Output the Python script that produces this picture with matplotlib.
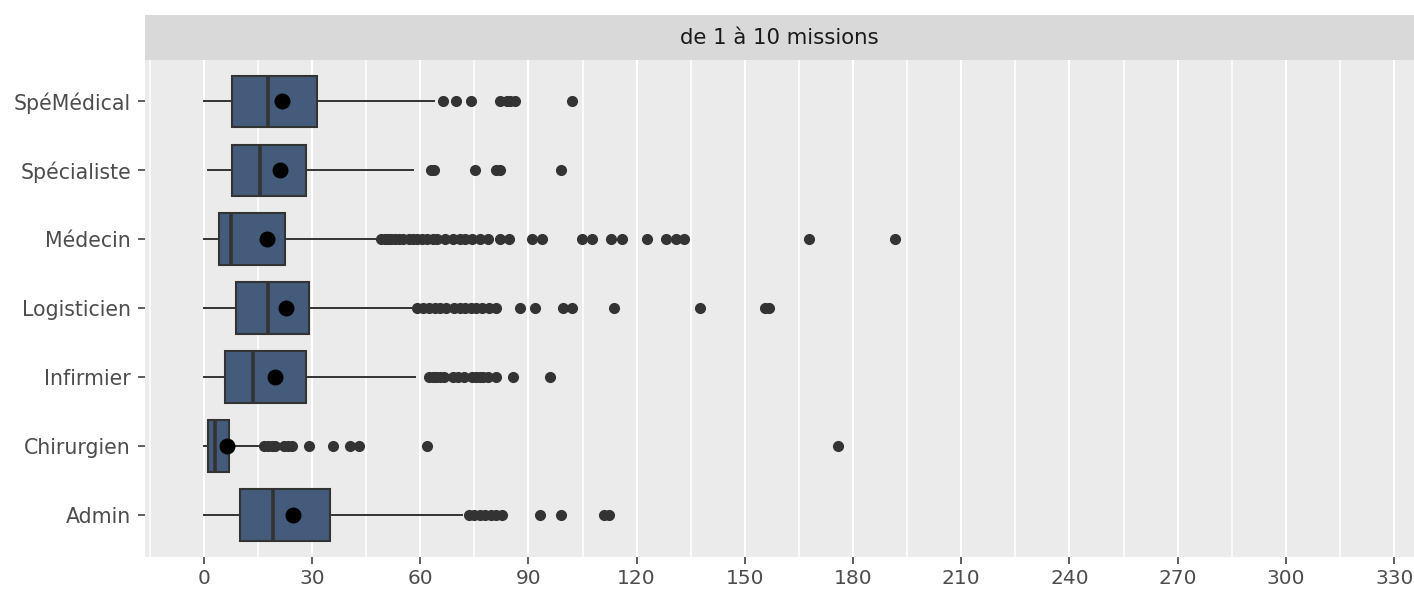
import matplotlib
matplotlib.use("Agg")
import matplotlib.pyplot as plt
import numpy as np

# ---- data (bottom to top) ----
categories = ["Admin", "Chirurgien", "Infirmier", "Logisticien", "Médecin", "Spécialiste", "SpéMédical"]
whislo = [0.0, 0.0, 0.0, 0.0, 0.0, 1.1, 0.0]
q1 = [10.1, 1.1, 5.9, 9.0, 4.2, 7.8, 7.8]
med = [19.3, 3.0, 13.6, 17.8, 7.6, 15.6, 17.8]
q3 = [35.1, 7.1, 28.3, 29.3, 22.5, 28.3, 31.4]
whishi = [71.7, 16.1, 58.6, 58.6, 48.0, 57.9, 63.7]
means = [24.8, 6.4, 19.7, 22.8, 17.5, 21.2, 21.8]

out_admin = [73.6, 75.0, 76.5, 78.0, 79.5, 81.0, 82.8, 93.2, 99.1, 111.0, 112.4]
out_chirurgien = [16.8, 17.8, 18.8, 19.8, 22.3, 23.3, 24.5, 29.2, 35.9, 40.6, 43.1, 62.0, 175.8]
out_infirmier = [62.5, 63.5, 64.5, 65.5, 66.7, 69.0, 70.5, 72.2, 74.5, 75.5, 76.5, 77.5,
                 78.7, 81.0, 85.8, 95.9]
out_logisticien = [59.2, 60.8, 62.5, 64.0, 65.5, 67.2, 69.3, 71.0, 72.5, 74.0, 75.5, 77.0,
                   79.0, 81.0, 87.7, 91.9, 99.7, 102.2, 113.8, 137.7, 155.6, 156.8]
out_medecin = [49.2, 50.3, 51.2, 52.0, 53.0, 54.1, 55.2, 57.0, 58.0, 59.2, 60.5, 62.0, 63.5,
               64.8, 67.0, 69.0, 71.0, 72.5, 74.5, 76.5, 78.9, 82.1, 84.5, 90.9, 93.7, 104.8,
               107.7, 112.8, 116.0, 122.9, 128.1, 130.9, 133.1, 167.8, 191.7]
out_specialiste = [63.0, 63.9, 75.2, 81.0, 82.2, 99.1]
out_spemedical = [66.4, 69.9, 74.1, 82.0, 84.0, 84.9, 86.3, 102.2]
outliers = [out_admin, out_chirurgien, out_infirmier, out_logisticien, out_medecin,
            out_specialiste, out_spemedical]

strip_label = "de 1 à 10 missions"
x_ticks = list(range(0, 331, 30))

# ---- styling ----
W, H = 1414, 595
fig = plt.figure(figsize=(W / 100, H / 100), dpi=100)
fig.patch.set_facecolor("white")

ax_l, ax_r = 145.3 / W, 1.0
ax_b, ax_t = 1 - 556.7 / H, 1 - 60 / H
strip_t = 1 - 15 / H
ax = fig.add_axes([ax_l, ax_b, ax_r - ax_l, ax_t - ax_b])
sax = fig.add_axes([ax_l, ax_t, ax_r - ax_l, strip_t - ax_t])

ax.set_facecolor("#EBEBEB")
for s in ax.spines.values():
    s.set_visible(False)

stats = []
for i in range(len(categories)):
    stats.append(dict(label=categories[i], whislo=whislo[i], q1=q1[i], med=med[i],
                      q3=q3[i], whishi=whishi[i], mean=means[i], fliers=outliers[i]))

positions = np.arange(len(categories))
edge = "#333333"
bp = ax.bxp(stats, positions=positions, widths=0.75, orientation="horizontal",
            patch_artist=True, showmeans=True, showcaps=False, manage_ticks=False,
            boxprops=dict(facecolor="#445B7C", edgecolor=edge, linewidth=1.5),
            whiskerprops=dict(color=edge, linewidth=1.4),
            medianprops=dict(color=edge, linewidth=2.6),
            flierprops=dict(marker="o", markerfacecolor=edge, markeredgecolor=edge,
                            markersize=7, linestyle="none"),
            meanprops=dict(marker="o", markerfacecolor="black", markeredgecolor="black",
                           markersize=10.5))
for b in bp["boxes"]:
    b.set_zorder(2)
for m in bp["means"]:
    m.set_zorder(4)

ax.set_xlim(-16.2, 335.5)
ax.set_ylim(-0.6, len(categories) - 0.4)
ax.set_xticks(x_ticks)
ax.set_xticklabels([str(t) for t in x_ticks])
ax.set_xticks(np.arange(-15, 336, 30), minor=True)
ax.set_yticks(positions)
ax.set_yticklabels(categories)

ax.grid(axis="x", which="major", color="white", linewidth=1.5, zorder=0)
ax.grid(axis="x", which="minor", color="white", linewidth=1.1, zorder=0)
ax.grid(axis="y", visible=False)
ax.set_axisbelow(True)
ax.tick_params(axis="both", which="major", length=4.8, width=1.1, color=edge,
               labelcolor="#4D4D4D")
ax.tick_params(axis="x", which="major", labelsize=14.5, pad=4)
ax.tick_params(axis="y", which="major", labelsize=14.8, pad=5.5)
ax.tick_params(axis="x", which="minor", length=0)

sax.set_facecolor("#D9D9D9")
for s in sax.spines.values():
    s.set_visible(False)
sax.set_xticks([])
sax.set_yticks([])
sax.text(0.5, 0.5, strip_label, transform=sax.transAxes, ha="center", va="center",
         fontsize=15.3, color="#1A1A1A")

fig.savefig("out.png", dpi=100)
